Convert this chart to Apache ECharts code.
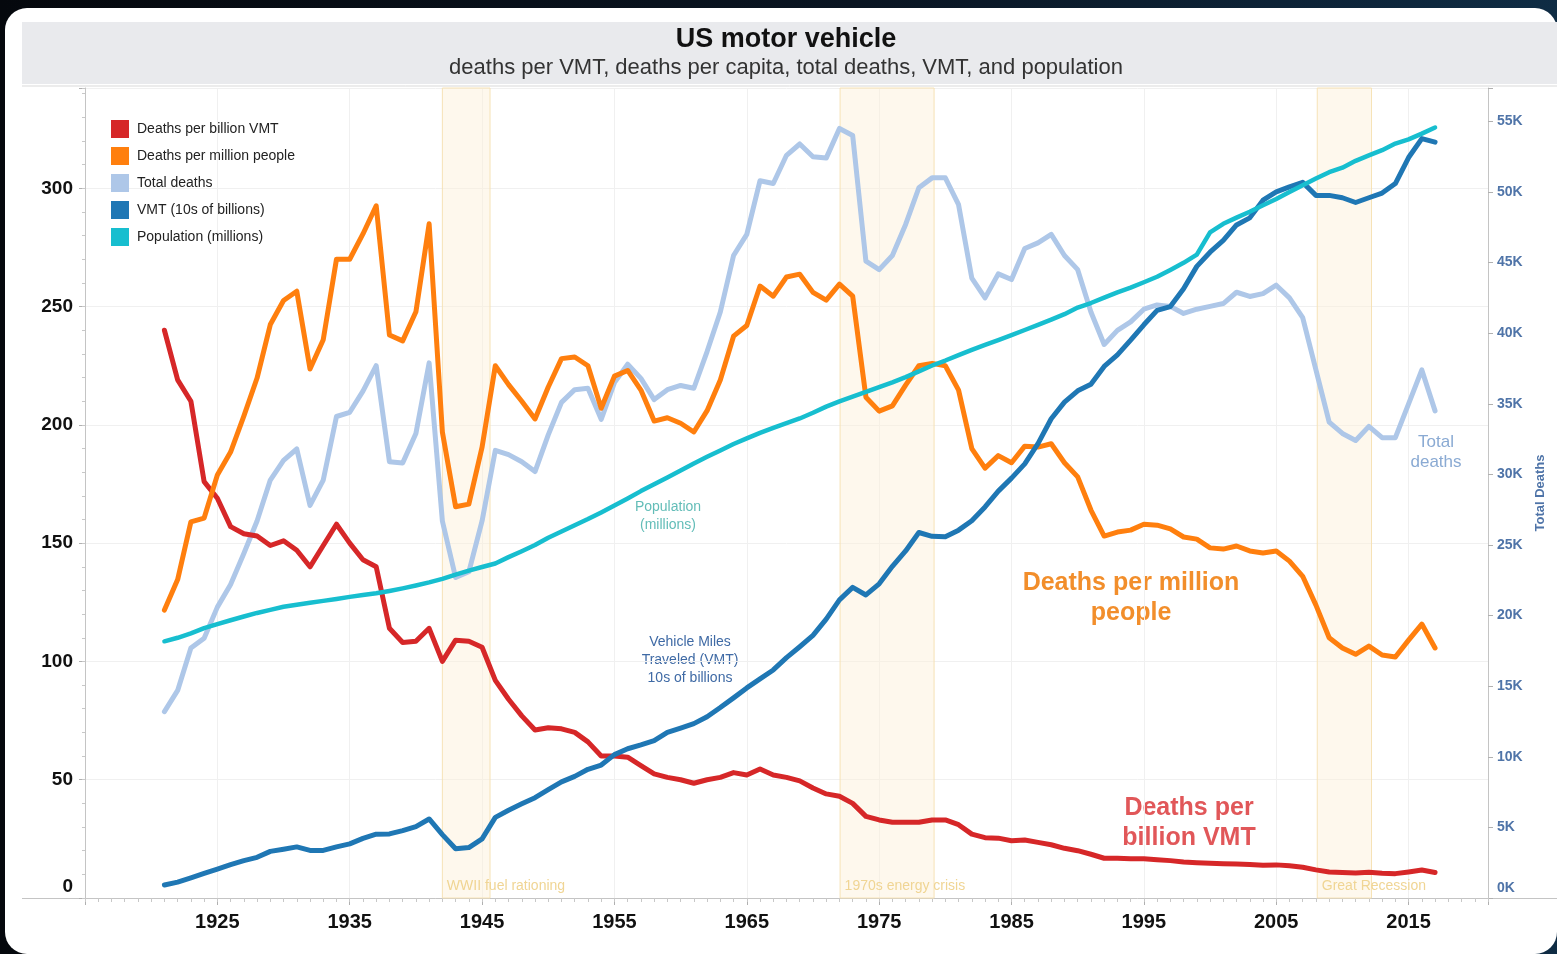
<!DOCTYPE html>
<html><head><meta charset="utf-8">
<script src="https://cdn.jsdelivr.net/npm/echarts@6/dist/echarts.min.js"></script>
<style>
html,body{margin:0;padding:0;width:1557px;height:954px;overflow:hidden;background:linear-gradient(90deg,#05080d 0%,#0a1522 55%,#0f2c44 100%);}
#card{position:absolute;left:5px;top:8px;width:1552px;height:946px;background:#fff;border-radius:22px;}
#chart{position:absolute;left:0;top:0;width:1557px;height:954px;}
</style></head><body><div id="card"></div><div id="chart"></div>
<script>
// ---------------- DATA ----------------
const startYear = 1921;
const seriesNames = ['Deaths per billion VMT','Deaths per million people','Total deaths','VMT (10s of billions)','Population (millions)'];
const deathsPerBillionVMT = [
240,219,210,176,169,157,154,153,149,151,
147,140,149,158,150,143,140,114,108,108.5,
114,100,109,108.5,106,92,84,77,71,72,
71.5,70,66,60,60,59.5,56,52.5,51,50,
48.5,50,51,53,52,54.5,52,51,49.5,46.5,
44,43,40,34.5,33,32,32,32,33,33,
31,27,25.5,25.3,24.2,24.5,23.5,22.5,21,20,
18.5,16.8,16.8,16.6,16.6,16.2,15.8,15.2,14.9,14.7,
14.5,14.4,14.2,13.8,14,13.6,13,11.9,11,10.8,
10.6,10.9,10.5,10.3,11,11.8,10.8];
const deathsPerMillionPeople = [
121.7,134.6,159,160.6,178.8,188.5,203.7,219.8,242.4,252.6,
256.5,223.6,236,270,270,280.7,292.6,238,235.5,247.8,
285,197,165.4,166.5,190.6,225,217,210,202.5,216,
228,228.7,225,207,220.6,223,214.7,201.6,203,200.7,
197,206,219,237.5,242,258.7,254.4,262.5,263.7,256,
252.7,259.5,254.4,211.7,205.8,208,216.8,225,226,225,
214.7,190,181.7,187,184,191,190.6,192,184,178,
164,153,154.7,155.5,158,157.6,156,152.6,151.7,148,
147.5,148.8,146.7,145.8,146.7,142.4,136,123.8,110,105.7,
103,106.5,102.7,101.9,109,115.8,105.7];
const totalDeaths = [
13200,14700,17700,18400,20600,22200,24400,26700,29600,31000,
31800,27800,29600,34100,34400,35900,37700,30900,30800,32900,
37900,26700,22700,23100,26700,31700,31400,30900,30200,32800,
35100,36000,36100,33900,36500,37800,36800,35300,36000,36300,
36100,38700,41500,45500,47000,50800,50600,52600,53400,52500,
52400,54500,54000,45100,44500,45500,47700,50300,51000,51000,
49100,43900,42500,44200,43800,46000,46400,47000,45500,44500,
41500,39200,40200,40800,41700,42000,41900,41400,41700,41900,
42100,42900,42600,42800,43400,42500,41100,37400,33700,32900,
32400,33400,32600,32600,35000,37400,34500];
const vmtTensOfBillions = [
5.5,6.7,8.5,10.4,12.2,14.1,15.8,17.2,19.7,20.6,
21.6,20.1,20.1,21.6,22.9,25.2,27.0,27.1,28.5,30.2,
33.4,26.8,20.8,21.3,25.0,34.1,37.1,39.8,42.4,45.8,
49.1,51.4,54.4,56.2,60.6,63.1,64.7,66.5,70.0,71.8,
73.7,76.6,80.5,84.6,88.8,92.6,96.4,101.6,106.2,111.0,
117.9,126.0,131.3,128.1,132.8,140.2,146.7,154.5,152.9,152.7,
155.5,159.5,165.3,172.0,177.5,183.5,192.1,202.6,209.6,214.4,
217.2,224.7,229.6,235.8,242.3,248.4,250.0,257.5,267.0,273.0,
278.0,284.5,287.5,295.0,298.5,300.6,302.5,297.0,297.0,296.0,
294.0,296.0,298.0,302.0,313.0,321.0,319.5];
const populationMillions = [
108.5,110.0,111.9,114.1,115.8,117.4,119.0,120.5,121.8,123.1,
124.0,124.8,125.6,126.4,127.3,128.1,128.8,129.8,130.9,132.1,
133.4,134.9,136.7,138.4,139.9,141.4,144.1,146.6,149.2,152.3,
154.9,157.6,160.2,163.0,165.9,168.9,172.0,174.9,177.8,180.7,
183.7,186.5,189.2,191.9,194.3,196.6,198.7,200.7,202.7,205.1,
207.7,209.9,211.9,213.9,216.0,218.0,220.2,222.6,225.1,227.2,
229.5,231.7,233.8,235.8,237.9,240.1,242.3,244.5,246.8,249.6,
251.5,253.8,256.0,258.0,260.3,262.6,265.5,268.5,272.0,281.4,
285.0,287.6,290.1,292.8,295.5,298.4,301.3,304.1,306.8,308.7,
311.6,313.9,316.1,318.9,320.7,323.1,325.7];
const bands = [
  {label:'WWII fuel rationing', from:1942, to:1945.6},
  {label:'1970s energy crisis', from:1972.05, to:1979.15},
  {label:'Great Recession', from:2008.1, to:2012.2}
];
const leftTicks = [0,50,100,150,200,250,300];
const rightTicks = [0,5000,10000,15000,20000,25000,30000,35000,40000,45000,50000,55000];
const xTickLabels = [1925,1935,1945,1955,1965,1975,1985,1995,2005,2015];

// ---------------- BUILD ----------------
const years = deathsPerBillionVMT.map((_, i) => startYear + i);
const pair = arr => arr.map((v, i) => [years[i], v]);
const SANS = "'Liberation Sans',Arial,Helvetica,sans-serif";
const colors = ['#d62728','#ff7f0e','#aec7e8','#1f77b4','#17becf'];

const chart = echarts.init(document.getElementById('chart'), null, {renderer:'canvas'});

function lineSeries(name, data, color, width, yIdx, z, extra) {
  return Object.assign({
    name, type:'line', data: pair(data), xAxisIndex:0, yAxisIndex:yIdx,
    showSymbol:false, symbol:'none', smooth:false, z,
    lineStyle:{color, width, cap:'round', join:'round'},
    itemStyle:{color}, emphasis:{disabled:true}
  }, extra || {});
}

const bandLabelStyle = {show:true, position:'insideBottomLeft', distance:5, color:'#f0d594',
  fontSize:14, fontFamily:SANS, formatter: p => p.name};

const option = {
  animation:false,
  color: colors,
  grid:{left:85, right:69, top:88, bottom:56, containLabel:false},
  legend:{
    data: seriesNames, orient:'vertical', left:106, top:115, itemGap:9,
    icon:'rect', itemWidth:18, itemHeight:18,
    textStyle:{fontSize:14, color:'#222', fontFamily:SANS, padding:[0,0,0,3]}
  },
  xAxis:[
    {type:'value', min:1915, max:2021, interval:10,
     axisLine:{show:true, lineStyle:{color:'#c4c4c4', width:1}},
     axisTick:{show:true, length:7, lineStyle:{color:'#b0b0b0'}},
     axisLabel:{margin:14, fontSize:20, fontWeight:'bold', fontFamily:SANS, color:'#111',
       formatter: v => xTickLabels.indexOf(v) >= 0 ? String(v) : ''},
     splitLine:{show:true, lineStyle:{color:'#f0f0f0', width:1}}},
    {type:'value', min:1915, max:2021, interval:1, position:'bottom',
     axisLine:{show:false}, axisLabel:{show:false}, splitLine:{show:false},
     axisTick:{show:true, length:4, lineStyle:{color:'#c8c8c8'}}}
  ],
  yAxis:[
    {type:'value', position:'left', min:0, max:342.4, interval:50,
     axisLine:{show:true, lineStyle:{color:'#c4c4c4'}},
     axisTick:{show:true, length:6, lineStyle:{color:'#b0b0b0'}},
     splitLine:{show:true, lineStyle:{color:'#f0f0f0'}},
     axisLabel:{margin:12, fontSize:19, fontWeight:'bold', fontFamily:SANS, color:'#111',
       formatter: v => leftTicks.indexOf(v) < 0 ? '' : (v === 0 ? '{z|0}' : String(v)),
       rich:{z:{fontSize:19, fontWeight:'bold', fontFamily:SANS, color:'#111', padding:[0,0,22,0]}}}},
    {type:'value', position:'right', min:0, max:57365, interval:5000,
     axisLine:{show:true, lineStyle:{color:'#c4c4c4'}},
     axisTick:{show:true, length:5, lineStyle:{color:'#b0b0b0'}},
     splitLine:{show:false},
     name:'Total Deaths', nameLocation:'middle', nameGap:45, nameRotate:90,
     nameTextStyle:{color:'#4f74a8', fontWeight:'bold', fontSize:13, fontFamily:SANS},
     axisLabel:{margin:9, fontSize:14, fontWeight:'bold', fontFamily:SANS, color:'#4f74a8',
       formatter: v => rightTicks.indexOf(v) < 0 ? '' : (v === 0 ? '{z|0K}' : (v/1000)+'K'),
       rich:{z:{fontSize:14, fontWeight:'bold', fontFamily:SANS, color:'#4f74a8', padding:[0,0,20,0]}}}},
    {type:'value', position:'left', min:0, max:342.4, interval:10,
     axisLine:{show:false}, axisLabel:{show:false}, splitLine:{show:false},
     axisTick:{show:true, length:3, lineStyle:{color:'#c8c8c8'}}}
  ],
  series:[
    lineSeries(seriesNames[0], deathsPerBillionVMT, colors[0], 5, 0, 4, {
      markArea:{
        silent:true, z:1,
        itemStyle:{color:'rgba(252,240,214,0.45)', borderColor:'#f6e2b6', borderWidth:1},
        label: bandLabelStyle,
        data: bands.map(b => [{name:b.label, xAxis:b.from, label:bandLabelStyle}, {xAxis:b.to}])
      }
    }),
    lineSeries(seriesNames[1], deathsPerMillionPeople, colors[1], 5, 0, 5),
    lineSeries(seriesNames[2], totalDeaths, colors[2], 5, 1, 3),
    lineSeries(seriesNames[3], vmtTensOfBillions, colors[3], 5, 0, 6),
    lineSeries(seriesNames[4], populationMillions, colors[4], 4.5, 0, 7)
  ],
  graphic:[
    {type:'rect', z:-10, silent:true, shape:{x:22, y:22, width:1540, height:62}, style:{fill:'#e9eaed'}},
    {type:'line', z:-9, silent:true, shape:{x1:22, y1:86, x2:1557, y2:86}, style:{stroke:'#d9d9d9', lineWidth:1}},
    {type:'line', z:-9, silent:true, shape:{x1:22, y1:898.5, x2:1557, y2:898.5}, style:{stroke:'#c4c4c4', lineWidth:1}},
    {type:'text', silent:true, style:{text:'US motor vehicle', x:786, y:40, textAlign:'center', textVerticalAlign:'middle',
      font:"bold 27px "+SANS, fill:'#111'}},
    {type:'text', silent:true, style:{text:'deaths per VMT, deaths per capita, total deaths, VMT, and population', x:786, y:68,
      textAlign:'center', textVerticalAlign:'middle', font:"22px "+SANS, fill:'#333'}},
    {type:'text', silent:true, style:{text:'Population\n(millions)', x:668, y:516, textAlign:'center', textVerticalAlign:'middle',
      font:"14px "+SANS, fill:'#63bdb8', lineHeight:18}},
    {type:'text', silent:true, style:{text:'Vehicle Miles\nTraveled (VMT)\n10s of billions', x:690, y:660, textAlign:'center', textVerticalAlign:'middle',
      font:"14px "+SANS, fill:'#3f6aa5', lineHeight:18}},
    {type:'text', silent:true, style:{text:'Deaths per million\npeople', x:1131, y:598, textAlign:'center', textVerticalAlign:'middle',
      font:"bold 25px "+SANS, fill:'#f28e2b', lineHeight:30}},
    {type:'text', silent:true, style:{text:'Deaths per\nbillion VMT', x:1189, y:823, textAlign:'center', textVerticalAlign:'middle',
      font:"bold 25px "+SANS, fill:'#e15759', lineHeight:30}},
    {type:'text', silent:true, style:{text:'Total\ndeaths', x:1436, y:452, textAlign:'center', textVerticalAlign:'middle',
      font:"17px "+SANS, fill:'#8aaad3', lineHeight:20}}
  ]
};
chart.setOption(option);
</script>
</body></html>
